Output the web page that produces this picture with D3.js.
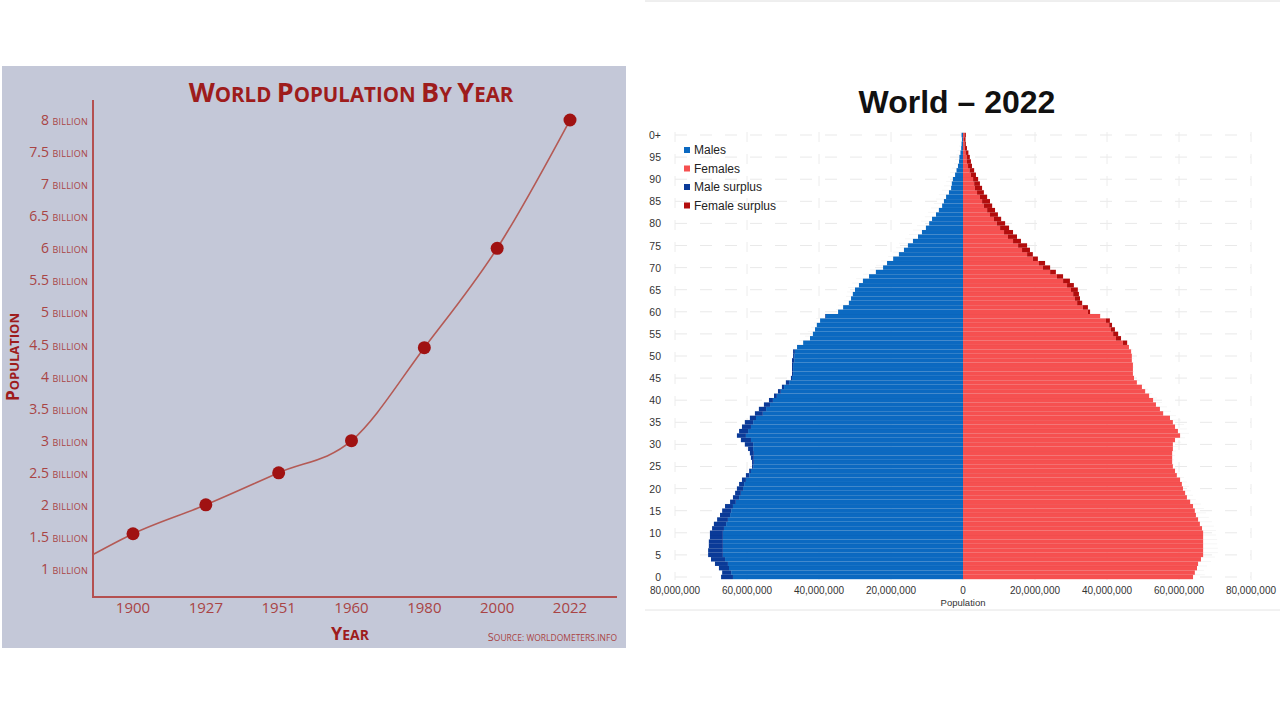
<!DOCTYPE html>
<html>
<head>
<meta charset="utf-8">
<script src="https://cdn.jsdelivr.net/npm/d3@7"></script>
<style>
  body { margin: 0; background: #fff; }
  svg { display: block; }
</style>
</head>
<body>
<div id="chart"></div>
<script>
// ---- left chart data (world population, billions)
const years = ["1900", "1927", "1951", "1960", "1980", "2000", "2022"];
const population = [1.55, 2.0, 2.5, 3.0, 4.45, 6.0, 8.0];
const popTicks = [1, 1.5, 2, 2.5, 3, 3.5, 4, 4.5, 5, 5.5, 6, 6.5, 7, 7.5, 8];

// ---- right chart data (2022 population by single year of age, millions)
const ages = d3.range(0, 101);
const males = [
  67.2, 66.9, 67.8, 68.9, 70.0, 70.8, 70.8, 70.6, 70.6, 70.3,
  70.3, 69.7, 69.2, 68.3, 67.5, 66.9, 66.1, 64.7, 63.9, 63.3,
  62.8, 62.2, 61.4, 60.3, 59.4, 58.6, 58.6, 58.9, 59.2, 59.7,
  60.6, 61.7, 62.8, 62.2, 61.4, 60.6, 59.2, 57.8, 56.7, 55.3,
  53.9, 52.5, 51.4, 50.3, 49.2, 47.8, 47.5, 47.5, 47.5, 47.5,
  47.2, 47.2, 46.1, 44.4, 42.5, 41.7, 41.1, 40.6, 39.7, 38.3,
  34.7, 33.3, 31.7, 31.1, 30.6, 30.0, 28.9, 27.8, 26.1, 24.2,
  22.2, 21.1, 19.4, 17.8, 16.4, 15.3, 13.9, 12.5, 11.4, 10.3,
  9.4, 8.6, 7.5, 6.7, 5.8, 5.3, 4.7, 3.9, 3.3, 3.1,
  2.8, 2.2, 1.8, 1.4, 1.1, 1.0, 0.7, 0.5, 0.4, 0.3,
  0.4
];
const females = [
  63.9, 64.4, 65.0, 65.3, 66.1, 66.7, 66.7, 66.7, 66.7, 66.7,
  66.7, 66.4, 65.8, 65.3, 64.7, 64.4, 63.9, 63.1, 62.2, 61.7,
  61.1, 60.8, 60.3, 59.4, 58.9, 58.3, 58.1, 58.1, 58.1, 58.3,
  58.3, 58.9, 60.3, 59.7, 58.9, 58.3, 57.5, 55.6, 54.7, 53.6,
  52.8, 51.7, 50.6, 49.7, 48.3, 47.5, 47.2, 47.2, 47.2, 46.9,
  46.9, 46.7, 46.1, 45.6, 43.9, 43.1, 42.2, 41.4, 40.8, 38.1,
  35.3, 34.7, 33.1, 32.5, 32.2, 31.9, 30.8, 29.7, 27.8, 25.8,
  24.2, 22.8, 20.8, 19.4, 18.6, 17.8, 16.1, 15.0, 13.9, 12.8,
  11.7, 10.6, 9.7, 8.9, 8.1, 7.5, 6.7, 5.8, 5.3, 4.7,
  4.2, 3.6, 3.1, 2.5, 2.2, 1.9, 1.5, 1.1, 0.8, 0.7,
  0.8
];
const ageTicks = d3.range(0, 101, 5);
const popAxisTicks = [-80, -60, -40, -20, 0, 20, 40, 60, 80];
const legendItems = ["Males", "Females", "Male surplus", "Female surplus"];
const legendColors = ["#0b69c1", "#f65050", "#0a3a98", "#b30d0d"];

const svg = d3.select("#chart").append("svg")
    .attr("width", 1280)
    .attr("height", 720);

svg.append("rect").attr("width", 1280).attr("height", 720).attr("fill", "#fff");

// =================== LEFT CHART ===================
const red = "#9e1c1c", soft = "#a94444", axisCol = "#b45050";
const left = svg.append("g").attr("font-family", "'Open Sans', sans-serif");

left.append("rect")
    .attr("x", 2).attr("y", 66).attr("width", 624).attr("height", 582)
    .attr("fill", "#c4c8d8");

// small caps: capital letters big, lower case letters as smaller capitals
function smallCaps(sel, str, big, small) {
  str.split(/(?=[A-Z])/).forEach(function(part) {
    sel.append("tspan").attr("font-size", big).text(part[0]);
    if (part.length > 1) sel.append("tspan").attr("font-size", small).text(part.slice(1).toUpperCase());
  });
}

const x = d3.scalePoint().domain(years).range([133, 570]);
const y = d3.scaleLinear().domain([1, 8]).range([569, 120]);
const axisX = 93, axisY = 597;

// axes lines
left.append("line").attr("x1", axisX).attr("x2", axisX).attr("y1", 100).attr("y2", axisY + 1)
    .attr("stroke", axisCol).attr("stroke-width", 2);
left.append("line").attr("x1", axisX).attr("x2", 617).attr("y1", axisY).attr("y2", axisY)
    .attr("stroke", axisCol).attr("stroke-width", 2);

// y tick labels
const yt = left.append("g").selectAll("text")
    .data(popTicks)
    .enter()
    .append("text")
    .attr("x", 88)
    .attr("y", function(d) { return y(d) + 5; })
    .attr("text-anchor", "end")
    .attr("fill", soft);
yt.append("tspan").attr("font-size", 14).text(function(d) { return d + " "; });
yt.append("tspan").attr("font-size", 9).attr("letter-spacing", 0.2).text("BILLION");

// x tick labels
left.append("g").selectAll("text")
    .data(years)
    .enter()
    .append("text")
    .attr("x", function(d) { return x(d); })
    .attr("y", 613)
    .attr("text-anchor", "middle")
    .attr("font-size", 15)
    .attr("fill", soft)
    .text(function(d) { return d; });

// line, extended back to the y axis along the first segment
const pts = years.map(function(d, i) { return [x(d), y(population[i])]; });
const slope = (pts[1][1] - pts[0][1]) / (pts[1][0] - pts[0][0]);
const lead = [axisX, pts[0][1] - slope * (pts[0][0] - axisX) + 5];
left.append("path")
    .attr("d", d3.line().curve(d3.curveMonotoneX)([lead].concat(pts)))
    .attr("fill", "none")
    .attr("stroke", "#b45a55")
    .attr("stroke-width", 1.6);

left.append("g").selectAll("circle")
    .data(population)
    .enter()
    .append("circle")
    .attr("cx", function(d, i) { return x(years[i]); })
    .attr("cy", function(d) { return y(d); })
    .attr("r", 6.5)
    .attr("fill", "#a01212");

// titles
const t1 = left.append("text").attr("x", 351).attr("y", 102).attr("text-anchor", "middle")
    .attr("font-weight", 700).attr("fill", red);
smallCaps(t1, "World Population By Year", 27, 20.5);

const t2 = left.append("text").attr("transform", "translate(19,357) rotate(-90)")
    .attr("text-anchor", "middle").attr("font-weight", 700).attr("fill", red);
smallCaps(t2, "Population", 17, 13);

const t3 = left.append("text").attr("x", 350).attr("y", 640).attr("text-anchor", "middle")
    .attr("font-weight", 700).attr("fill", red);
smallCaps(t3, "Year", 18, 14);

const t4 = left.append("text").attr("x", 617).attr("y", 641).attr("text-anchor", "end")
    .attr("fill", soft);
smallCaps(t4, "Source: worldometers.info", 11, 8.5);

// =================== RIGHT CHART ===================
const right = svg.append("g").attr("font-family", "'Liberation Sans', Arial, sans-serif");

const defs = svg.append("defs");
defs.append("clipPath").attr("id", "rclip")
    .append("rect").attr("x", 645).attr("y", 0).attr("width", 635).attr("height", 720);
defs.append("clipPath").attr("id", "lblclip")
    .append("rect").attr("x", 649).attr("y", 0).attr("width", 631).attr("height", 720);
right.attr("clip-path", "url(#rclip)");

right.append("line").attr("x1", 645).attr("x2", 1280).attr("y1", 1).attr("y2", 1)
    .attr("stroke", "#dedede");
right.append("line").attr("x1", 645).attr("x2", 1280).attr("y1", 610).attr("y2", 610)
    .attr("stroke", "#e4e4e4");

const px = d3.scaleLinear().domain([-80, 80]).range([675, 1251]);
const py = d3.scaleBand().domain(ages).range([579.2, 132.8]).padding(0);

// dashed grid
right.append("g").selectAll("line")
    .data(ageTicks)
    .enter()
    .append("line")
    .attr("x1", px(-80)).attr("x2", px(80))
    .attr("y1", function(d) { return py(d) + py.bandwidth() / 2; })
    .attr("y2", function(d) { return py(d) + py.bandwidth() / 2; })
    .attr("stroke", "#e9e9e9")
    .attr("stroke-dasharray", "12,13");
right.append("g").selectAll("line")
    .data(popAxisTicks)
    .enter()
    .append("line")
    .attr("x1", function(d) { return px(d); })
    .attr("x2", function(d) { return px(d); })
    .attr("y1", 132).attr("y2", 580)
    .attr("stroke", "#ececec")
    .attr("stroke-dasharray", "10,12");

// bars
const bars = right.append("g");
ages.forEach(function(a, i) {
  const m = males[i], f = females[i], c = Math.min(m, f);
  const yy = py(a), h = py.bandwidth();
  bars.append("rect").attr("x", px(-c)).attr("y", yy).attr("width", px(0) - px(-c)).attr("height", h)
      .attr("fill", legendColors[0]);
  bars.append("rect").attr("x", px(0)).attr("y", yy).attr("width", px(c) - px(0)).attr("height", h)
      .attr("fill", legendColors[1]);
  if (m > f) {
    bars.append("rect").attr("x", px(-m)).attr("y", yy).attr("width", px(-f) - px(-m)).attr("height", h)
        .attr("fill", legendColors[2]);
  }
  if (f > m) {
    bars.append("rect").attr("x", px(m)).attr("y", yy).attr("width", px(f) - px(m)).attr("height", h)
        .attr("fill", legendColors[3]);
  }
  // faint separator between single-year bars
  bars.append("line").attr("x1", px(-Math.max(m, f))).attr("x2", px(Math.max(m, f)))
      .attr("y1", yy).attr("y2", yy)
      .attr("stroke", "rgba(0,0,0,0.07)").attr("stroke-width", 0.6);
});

// y axis labels (the picture is cropped on the left, so "100+" shows as "0+")
right.append("g").attr("clip-path", "url(#lblclip)").selectAll("text")
    .data(ageTicks)
    .enter()
    .append("text")
    .attr("x", 661)
    .attr("y", function(d) { return py(d) + py.bandwidth() / 2 + 4; })
    .attr("text-anchor", "end")
    .attr("font-size", 10.5)
    .attr("fill", "#333")
    .text(function(d) { return d === 100 ? "100+" : d; });

// x axis labels
right.append("g").selectAll("text")
    .data(popAxisTicks)
    .enter()
    .append("text")
    .attr("x", function(d) { return px(d); })
    .attr("y", 594)
    .attr("text-anchor", "middle")
    .attr("font-size", 10)
    .attr("fill", "#333")
    .text(function(d) { return d3.format(",")(Math.abs(d) * 1e6); });

right.append("text").attr("x", px(0)).attr("y", 606).attr("text-anchor", "middle")
    .attr("font-size", 9.5).attr("fill", "#333").text("Population");

right.append("text").attr("x", 957).attr("y", 113).attr("text-anchor", "middle")
    .attr("font-size", 32).attr("font-weight", 700).attr("fill", "#111").text("World – 2022");

// legend
const lg = right.append("g").selectAll("g")
    .data(legendItems)
    .enter()
    .append("g")
    .attr("transform", function(d, i) { return "translate(684," + (150 + i * 18.5) + ")"; });
lg.append("rect").attr("x", 0).attr("y", -3).attr("width", 6).attr("height", 6)
    .attr("fill", function(d, i) { return legendColors[i]; });
lg.append("text").attr("x", 10).attr("y", 4).attr("font-size", 12).attr("fill", "#222")
    .text(function(d) { return d; });
</script>
</body>
</html>
